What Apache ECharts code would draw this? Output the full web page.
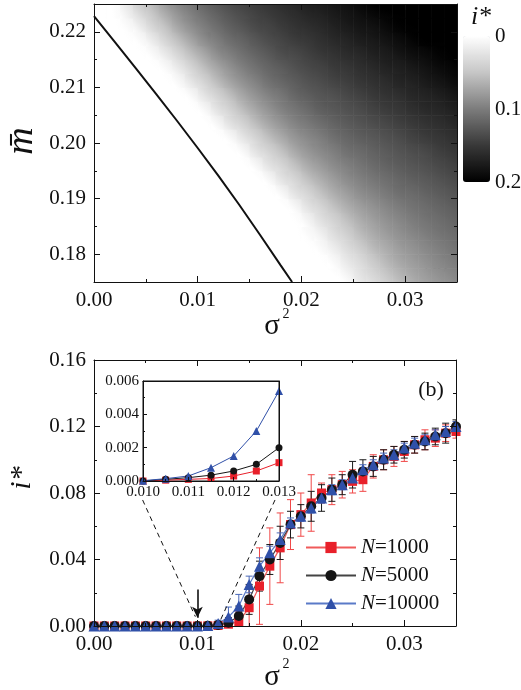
<!DOCTYPE html>
<html>
<head>
<meta charset="utf-8">
<title>i* versus sigma^2</title>
<script src="https://cdn.jsdelivr.net/npm/echarts@6.0.0/dist/echarts.min.js"></script>
<style>
  html, body { margin: 0; padding: 0; background: #fff; }
  #chart { width: 521px; height: 690px; }
</style>
</head>
<body>
<div id="chart"></div>
<script>
// ---------- panel (a): stationary level i* over the (sigma^2, m-bar) plane ----------
// cell centres (cells are 0.00125 wide in sigma^2 and 0.0025 tall in m-bar)
const heatSigma = [0.000625, 0.001875, 0.003125, 0.004375, 0.005625, 0.006875, 0.008125,
  0.009375, 0.010625, 0.011875, 0.013125, 0.014375, 0.015625, 0.016875, 0.018125, 0.019375,
  0.020625, 0.021875, 0.023125, 0.024375, 0.025625, 0.026875, 0.028125, 0.029375, 0.030625,
  0.031875, 0.033125, 0.034375];
const heatM = [0.17625, 0.17875, 0.18125, 0.18375, 0.18625, 0.18875, 0.19125, 0.19375, 0.19625,
  0.19875, 0.20125, 0.20375, 0.20625, 0.20875, 0.21125, 0.21375, 0.21625, 0.21875, 0.22125, 0.22375];
// one row per m-bar value (bottom to top), one column per sigma^2 value
const heatIstar = [
  [0, 0, 0, 0, 0, 0, 0, 0, 0, 0, 0, 0, 0, 0, 0, 0, 0, 0, 0, .009, .024, .035, .048, .060, .070, .078, .085, .091],
  [0, 0, 0, 0, 0, 0, 0, 0, 0, 0, 0, 0, 0, 0, 0, 0, 0, 0, .006, .020, .032, .046, .059, .070, .078, .085, .092, .098],
  [0, 0, 0, 0, 0, 0, 0, 0, 0, 0, 0, 0, 0, 0, 0, 0, 0, .005, .017, .031, .044, .058, .068, .078, .085, .092, .098, .104],
  [0, 0, 0, 0, 0, 0, 0, 0, 0, 0, 0, 0, 0, 0, 0, 0, .004, .014, .030, .042, .057, .068, .078, .086, .093, .099, .105, .110],
  [0, 0, 0, 0, 0, 0, 0, 0, 0, 0, 0, 0, 0, 0, 0, .001, .011, .027, .040, .054, .067, .077, .086, .093, .100, .106, .111, .116],
  [0, 0, 0, 0, 0, 0, 0, 0, 0, 0, 0, 0, 0, 0, 0, .009, .026, .039, .054, .067, .078, .086, .094, .101, .107, .112, .117, .122],
  [0, 0, 0, 0, 0, 0, 0, 0, 0, 0, 0, 0, 0, 0, .009, .026, .039, .054, .068, .079, .089, .096, .103, .110, .114, .119, .124, .129],
  [0, 0, 0, 0, 0, 0, 0, 0, 0, 0, 0, 0, 0, .009, .026, .039, .055, .068, .080, .090, .098, .105, .111, .117, .122, .126, .131, .136],
  [0, 0, 0, 0, 0, 0, 0, 0, 0, 0, 0, 0, .009, .026, .039, .055, .070, .081, .091, .099, .106, .113, .119, .124, .129, .133, .138, .143],
  [0, 0, 0, 0, 0, 0, 0, 0, 0, 0, 0, .008, .026, .040, .055, .071, .083, .092, .100, .109, .114, .120, .125, .130, .135, .139, .145, .150],
  [0, 0, 0, 0, 0, 0, 0, 0, 0, 0, .008, .025, .040, .057, .071, .084, .093, .101, .110, .117, .123, .127, .132, .137, .143, .148, .152, .157],
  [0, 0, 0, 0, 0, 0, 0, 0, 0, .009, .027, .041, .058, .073, .085, .096, .104, .112, .119, .125, .130, .135, .140, .145, .150, .155, .159, .164],
  [0, 0, 0, 0, 0, 0, 0, 0, .008, .026, .041, .058, .073, .086, .097, .106, .114, .122, .127, .132, .137, .143, .148, .152, .158, .163, .166, .171],
  [0, 0, 0, 0, 0, 0, 0, .007, .025, .040, .057, .073, .086, .097, .106, .116, .123, .129, .133, .139, .144, .150, .155, .159, .165, .169, .173, .179],
  [0, 0, 0, 0, 0, 0, .007, .024, .040, .058, .074, .087, .098, .109, .117, .124, .131, .136, .142, .146, .152, .157, .162, .168, .171, .177, .182, .188],
  [0, 0, 0, 0, 0, .006, .021, .039, .057, .073, .087, .099, .109, .118, .125, .132, .138, .143, .149, .153, .159, .164, .170, .173, .179, .184, .190, .195],
  [0, 0, 0, 0, .006, .021, .039, .057, .073, .089, .100, .110, .119, .127, .135, .139, .145, .151, .156, .162, .166, .172, .176, .182, .188, .192, .197, .200],
  [0, 0, 0, .005, .020, .039, .057, .074, .090, .101, .112, .120, .129, .136, .142, .148, .152, .158, .164, .169, .175, .179, .184, .190, .196, .200, .200, .200],
  [0, 0, .004, .018, .038, .055, .074, .089, .101, .112, .122, .130, .138, .143, .149, .155, .160, .165, .171, .177, .182, .186, .192, .198, .200, .200, .200, .200],
  [0, .001, .014, .035, .052, .071, .087, .100, .112, .122, .131, .138, .144, .150, .156, .162, .168, .172, .178, .183, .189, .195, .199, .200, .200, .200, .200, .200]
];
// analytic threshold curve
const thresholdSigma = [0, 0.002, 0.004, 0.006, 0.008, 0.010, 0.012, 0.014, 0.016, 0.018, 0.0191];
const thresholdM = [0.2228, 0.2182, 0.2135, 0.2088, 0.2040, 0.1991, 0.1941, 0.1889, 0.1835, 0.1780, 0.1750];
const aSigmaTicks = [0, 0.01, 0.02, 0.03];
const aSigmaMinor = [0.005, 0.015, 0.025, 0.035];
const aMTicks = [0.18, 0.19, 0.20, 0.21, 0.22];
const aMMinor = [0.175, 0.185, 0.195, 0.205, 0.215, 0.225];
const colorTicks = [0, 0.1, 0.2];

// ---------- panel (b): i* against sigma^2 for three network sizes ----------
const sigma = [0, 0.001, 0.002, 0.003, 0.004, 0.005, 0.006, 0.007, 0.008, 0.009, 0.010, 0.011,
  0.012, 0.013, 0.014, 0.015, 0.016, 0.017, 0.018, 0.019, 0.020, 0.021, 0.022, 0.023, 0.024,
  0.025, 0.026, 0.027, 0.028, 0.029, 0.030, 0.031, 0.032, 0.033, 0.034, 0.035];
const istar1000 = [0, 0, 0, 0, 0, 0, 0, 0, 0, 0, 0, 0.0001, 0.0003, 0.0011, 0.0026, 0.011, 0.024,
  0.036, 0.047, 0.061, 0.067, 0.074, 0.080, 0.082, 0.085, 0.087, 0.088, 0.096, 0.100, 0.102, 0.105,
  0.109, 0.112, 0.113, 0.116, 0.117];
const err1000 = [0, 0, 0, 0, 0, 0, 0, 0, 0, 0, 0, 0, 0.0005, 0.002, 0.006, 0.013, 0.023, 0.023,
  0.021, 0.015, 0.013, 0.017, 0.006, 0.009, 0.008, 0.007, 0.007, 0.007, 0.006, 0.006, 0.006, 0.005,
  0.006, 0.005, 0.005, 0.004];
const istar5000 = [0, 0, 0, 0, 0, 0, 0, 0, 0, 0, 0, 0.0002, 0.0006, 0.002, 0.006, 0.016, 0.030,
  0.040, 0.050, 0.061, 0.066, 0.072, 0.077, 0.082, 0.085, 0.091, 0.093, 0.096, 0.100, 0.103, 0.106,
  0.109, 0.111, 0.114, 0.116, 0.120];
const err5000 = [0, 0, 0, 0, 0, 0, 0, 0, 0, 0, 0, 0, 0.001, 0.003, 0.006, 0.009, 0.009, 0.009,
  0.010, 0.008, 0.007, 0.009, 0.008, 0.007, 0.006, 0.008, 0.007, 0.006, 0.006, 0.005, 0.005, 0.005,
  0.005, 0.005, 0.006, 0.004];
const istar10000 = [0, 0, 0, 0, 0, 0, 0, 0, 0, 0, 0, 0.0003, 0.0015, 0.0054, 0.012, 0.025, 0.036,
  0.044, 0.052, 0.062, 0.066, 0.071, 0.077, 0.082, 0.085, 0.089, 0.094, 0.097, 0.101, 0.103, 0.107,
  0.110, 0.112, 0.115, 0.117, 0.120];
const err10000 = [0, 0, 0, 0, 0, 0, 0, 0, 0, 0, 0, 0.001, 0.002, 0.006, 0.007, 0.005, 0.005, 0.004,
  0.004, 0.003, 0.003, 0.003, 0.003, 0.003, 0.003, 0.003, 0.003, 0.003, 0.003, 0.003, 0.003, 0.003,
  0.003, 0.003, 0.003, 0.003];
const bSigmaTicks = [0, 0.01, 0.02, 0.03];
const bSigmaMinor = [0.005, 0.015, 0.025, 0.035];
const bITicks = [0, 0.04, 0.08, 0.12, 0.16];
const bIMinor = [0.02, 0.06, 0.10, 0.14];

// inset: close-up of the onset region
const insetSigma = [0.010, 0.0105, 0.011, 0.0115, 0.012, 0.0125, 0.013];
const inset1000 = [0, 0.00005, 0.0001, 0.00015, 0.0003, 0.0006, 0.0011];
const inset5000 = [0, 0.0001, 0.0002, 0.00035, 0.0006, 0.001, 0.002];
const inset10000 = [0.00002, 0.00014, 0.0003, 0.0008, 0.0015, 0.003, 0.0054];
const insetSigmaTicks = [0.010, 0.011, 0.012, 0.013];
const insetSigmaMinor = [0.0105, 0.0115, 0.0125];
const insetITicks = [0, 0.002, 0.004, 0.006];
const insetIMinor = [0.001, 0.003, 0.005];

// guide lines from the zoomed window to the inset, and the threshold arrow
const guideLeft = [[0.0047, 0.0758], [0.0098, 0.0056]];
const guideRight = [[0.0175, 0.0758], [0.0121, 0.0018]];
const arrowAt = [[0.010, 0.022], [0.010, 0.005]];

// ---------- drawing ----------
const FONT = '"Liberation Serif", "Times New Roman", serif';
const INK = '#111';
const CELL_W = 0.00125, CELL_H = 0.0025;
const NR = heatM.length, NC = heatSigma.length;
// grey level of the colour scale at i* = 0, 0.05, 0.10, 0.15, 0.20
const GREY_STOPS = [255, 198, 124, 56, 0];
const greyCss = function (g) { return 'rgb(' + g + ',' + g + ',' + g + ')'; };

function greyAt(v) {
  const t = Math.max(0, Math.min(0.2, v)) / 0.05;
  const i = Math.min(3, Math.floor(t));
  const f = t - i;
  return greyCss(Math.round(GREY_STOPS[i] + (GREY_STOPS[i + 1] - GREY_STOPS[i]) * f));
}

function zip(xs, ys) { return xs.map(function (x, i) { return [x, ys[i]]; }); }
function zip3(xs, ys, es) { return xs.map(function (x, i) { return [x, ys[i], es[i]]; }); }

// four axes per dimension: labelled side (major, minor ticks) and mirrored side (major, minor)
function frameAxes(dim, gridIndex, min, max, major, minor, o) {
  const sides = dim === 'x' ? ['bottom', 'top'] : ['left', 'right'];
  const axes = [];
  sides.forEach(function (pos, s) {
    const mirror = s === 1;
    const ticks = !mirror || o.mirrorTicks;
    axes.push({
      type: 'value', gridIndex: gridIndex, position: pos, min: min, max: max, z: 10,
      axisLine: { show: true, onZero: false, lineStyle: { color: INK, width: 1 } },
      axisTick: { show: ticks, inside: true, length: o.tickLen, customValues: major, lineStyle: { color: INK, width: 1 } },
      axisLabel: mirror ? { show: false } : {
        show: true, customValues: major, formatter: o.fmt, margin: o.margin,
        color: INK, fontFamily: FONT, fontSize: o.fontSize
      },
      splitLine: { show: false }
    });
    axes.push({
      type: 'value', gridIndex: gridIndex, position: pos, min: min, max: max, z: 10,
      axisLine: { show: false, onZero: false },
      axisTick: { show: ticks, inside: true, length: o.minorLen, customValues: minor, lineStyle: { color: INK, width: 1 } },
      axisLabel: { show: false },
      splitLine: { show: false }
    });
  });
  return axes;
}

const fix2 = function (v) { return v.toFixed(2); };
const fix3 = function (v) { return v.toFixed(3); };
const big = { tickLen: 6, minorLen: 3, fontSize: 21, mirrorTicks: true };

const heatData = [];
heatM.forEach(function (m, j) {
  heatSigma.forEach(function (s, k) { heatData.push([s, m, heatIstar[j][k]]); });
});

function cellValue(j, k) {
  return heatIstar[Math.max(0, Math.min(NR - 1, j))][Math.max(0, Math.min(NC - 1, k))];
}

// each cell is shaded along the local slope of the field so neighbouring cells blend
function cellRender(params, api) {
  const idx = params.dataIndex;
  const j = Math.floor(idx / NC), k = idx % NC;
  const v = heatIstar[j][k];
  const dk = (cellValue(j, k + 1) - cellValue(j, k - 1)) / ((k > 0 && k < NC - 1) ? 2 : 1);
  const dj = (cellValue(j + 1, k) - cellValue(j - 1, k)) / ((j > 0 && j < NR - 1) ? 2 : 1);
  const x = api.value(0), y = api.value(1);
  const a = api.coord([x - CELL_W / 2, y + CELL_H / 2]);
  const b = api.coord([x + CELL_W / 2, y - CELL_H / 2]);
  const W = b[0] - a[0], H = b[1] - a[1];
  const cx = (a[0] + b[0]) / 2, cy = (a[1] + b[1]) / 2;
  const gx = dk / W, gy = -dj / H;
  const gm = Math.sqrt(gx * gx + gy * gy);
  let fill;
  if (gm < 1e-12) {
    fill = greyAt(v);
  } else {
    const ux = gx / gm, uy = gy / gm;
    const L = (Math.abs(ux) * W + Math.abs(uy) * H) / 2;
    const stops = [];
    for (let s = 0; s <= 6; s++) {
      const t = s / 6;
      stops.push({ offset: t, color: greyAt(v + gm * L * (2 * t - 1)) });
    }
    fill = new echarts.graphic.LinearGradient(cx - ux * L, cy - uy * L, cx + ux * L, cy + uy * L, stops, true);
  }
  return {
    type: 'rect',
    shape: { x: a[0], y: a[1], width: W + 0.6, height: H + 0.6 },
    style: { fill: fill }
  };
}

function errorBars(color) {
  return function (params, api) {
    const e = api.value(2);
    if (!e) return null;
    const x = api.value(0), y = api.value(1);
    const hi = api.coord([x, y + e]);
    const lo = api.coord([x, y - e]);
    const hw = 3.5;
    const st = { stroke: color, lineWidth: 1 };
    return {
      type: 'group',
      children: [
        { type: 'line', shape: { x1: hi[0], y1: hi[1], x2: lo[0], y2: lo[1] }, style: st },
        { type: 'line', shape: { x1: hi[0] - hw, y1: hi[1], x2: hi[0] + hw, y2: hi[1] }, style: st },
        { type: 'line', shape: { x1: lo[0] - hw, y1: lo[1], x2: lo[0] + hw, y2: lo[1] }, style: st }
      ]
    };
  };
}

const RED = { mark: '#e8202a', line: '#f05a5a', bar: '#f04848' };
const BLK = { mark: '#151515', line: '#444444', bar: '#1a1a1a' };
const BLU = { mark: '#3050a8', line: '#5a7ac8', bar: '#4a68b8' };

function mainLine(name, ys, c, symbol, size) {
  return {
    type: 'line', name: name, xAxisIndex: 4, yAxisIndex: 4, data: zip(sigma, ys),
    symbol: symbol, symbolSize: size, showAllSymbol: true,
    itemStyle: { color: c.mark }, lineStyle: { color: c.line, width: 1.2 }, z: 3
  };
}
function mainErr(name, ys, es, c) {
  return {
    type: 'custom', name: name, xAxisIndex: 4, yAxisIndex: 4, clip: true, silent: true,
    data: zip3(sigma, ys, es), encode: { x: 0, y: 1 }, renderItem: errorBars(c.bar), z: 3
  };
}
function insetLine(name, ys, c, symbol, size) {
  return {
    type: 'line', name: name, xAxisIndex: 9, yAxisIndex: 9, data: zip(insetSigma, ys),
    symbol: symbol, symbolSize: size, itemStyle: { color: c.mark },
    lineStyle: { color: c.mark, width: 1 }, z: 6
  };
}

const chart = echarts.init(document.getElementById('chart'), null, { renderer: 'canvas' });

chart.setOption({
  animation: false,
  backgroundColor: '#ffffff',
  grid: [
    { left: 94, top: 4, width: 363, height: 278, containLabel: false, outerBoundsMode: 'none' },
    { left: 94, top: 360, width: 362, height: 266, containLabel: false, outerBoundsMode: 'none' },
    { left: 463, top: 36, width: 27, height: 146, containLabel: false, outerBoundsMode: 'none' },
    { left: 143, top: 381, width: 136, height: 100, containLabel: false, outerBoundsMode: 'none',
      show: true, backgroundColor: '#ffffff', borderColor: INK, borderWidth: 1, z: 5 }
  ],
  xAxis: [].concat(
    frameAxes('x', 0, 0, 0.035, aSigmaTicks, aSigmaMinor, Object.assign({ fmt: fix2, margin: 8 }, big)),
    frameAxes('x', 1, 0, 0.035, bSigmaTicks, bSigmaMinor, Object.assign({ fmt: fix2, margin: 8 }, big)),
    [{ type: 'value', gridIndex: 2, show: false, min: 0, max: 1 }],
    frameAxes('x', 3, 0.010, 0.013, insetSigmaTicks, insetSigmaMinor,
      { fmt: fix3, margin: 4, tickLen: 4, minorLen: 2, fontSize: 15, mirrorTicks: false })
  ),
  yAxis: [].concat(
    frameAxes('y', 0, 0.175, 0.225, aMTicks, aMMinor, Object.assign({ fmt: fix2, margin: 8 }, big)),
    frameAxes('y', 1, 0, 0.16, bITicks, bIMinor, Object.assign({ fmt: fix2, margin: 8 }, big)),
    [{
      type: 'value', gridIndex: 2, position: 'right', min: 0, max: 0.2, inverse: true,
      axisLine: { show: false }, axisTick: { show: false }, splitLine: { show: false },
      axisLabel: {
        customValues: colorTicks, margin: 5, color: INK, fontFamily: FONT, fontSize: 21,
        formatter: function (v) { return v === 0 ? '0' : v.toFixed(1); }
      }
    }],
    frameAxes('y', 3, 0, 0.006, insetITicks, insetIMinor,
      { fmt: fix3, margin: 4, tickLen: 4, minorLen: 2, fontSize: 15, mirrorTicks: false })
  ),
  visualMap: {
    type: 'continuous', seriesIndex: 0, dimension: 2, min: 0, max: 0.2,
    inRange: { color: GREY_STOPS.map(greyCss) },
    orient: 'vertical', inverse: true, left: 463, top: 36, itemWidth: 27, itemHeight: 146,
    padding: 0, calculable: false, hoverLink: false, showLabel: false, text: null
  },
  legend: {
    data: ['N=1000', 'N=5000', 'N=10000'], orient: 'vertical', left: 305, top: 537,
    itemWidth: 50, itemHeight: 14, itemGap: 7, padding: 0, selectedMode: false,
    formatter: function (n) { return '{it|N}' + n.slice(1); },
    textStyle: {
      color: INK, fontFamily: FONT, fontSize: 21,
      rich: { it: { fontStyle: 'italic', fontFamily: FONT, fontSize: 21, color: INK } }
    }
  },
  series: [
    { type: 'custom', name: 'istar map', xAxisIndex: 0, yAxisIndex: 0, data: heatData, clip: true,
      silent: true, encode: { x: 0, y: 1 }, renderItem: cellRender, z: 2 },
    { type: 'line', name: 'threshold', xAxisIndex: 0, yAxisIndex: 0, data: zip(thresholdSigma, thresholdM),
      symbol: 'none', lineStyle: { color: INK, width: 2 }, z: 4, silent: true },
    mainErr('err1000', istar1000, err1000, RED),
    mainLine('N=1000', istar1000, RED, 'rect', 9),
    mainErr('err5000', istar5000, err5000, BLK),
    mainLine('N=5000', istar5000, BLK, 'circle', 10),
    mainErr('err10000', istar10000, err10000, BLU),
    mainLine('N=10000', istar10000, BLU, 'triangle', 11),
    insetLine('inset1000', inset1000, RED, 'rect', 7),
    insetLine('inset5000', inset5000, BLK, 'circle', 7),
    insetLine('inset10000', inset10000, BLU, 'triangle', 8),
    {
      type: 'line', name: 'guides', xAxisIndex: 4, yAxisIndex: 4, data: [], silent: true, z: 4,
      markLine: {
        silent: true, animation: false, symbol: ['none', 'none'], label: { show: false },
        emphasis: { disabled: true },
        data: [
          [{ coord: guideLeft[0], lineStyle: { color: INK, width: 1, type: [5, 4] } }, { coord: guideLeft[1] }],
          [{ coord: guideRight[0], lineStyle: { color: INK, width: 1, type: [5, 4] } }, { coord: guideRight[1] }],
          [{ coord: arrowAt[0], symbol: 'none', lineStyle: { color: INK, width: 1.6, type: 'solid' } },
           { coord: arrowAt[1], symbol: 'arrow', symbolSize: [8, 11] }]
        ]
      }
    }
  ],
  graphic: [
    { type: 'text', x: 22, y: 141, rotation: Math.PI / 2,
      style: { text: 'm\u0304', fontFamily: FONT, fontStyle: 'italic', fontSize: 38, fill: INK, align: 'center', verticalAlign: 'middle' } },
    { type: 'text', x: 272, y: 326, style: { text: 'σ', fontFamily: FONT, fontSize: 29, fill: INK, align: 'center', verticalAlign: 'middle' } },
    { type: 'text', x: 286, y: 314, style: { text: '2', fontFamily: FONT, fontSize: 14, fill: INK, align: 'center', verticalAlign: 'middle' } },
    { type: 'text', x: 481, y: 17, style: { text: 'i*', fontFamily: FONT, fontStyle: 'italic', fontSize: 26, fill: INK, align: 'center', verticalAlign: 'middle' } },
    { type: 'text', x: 436, y: 263, style: { text: '(a)', fontFamily: FONT, fontSize: 22, fill: INK, align: 'center', verticalAlign: 'middle' } },
    { type: 'text', x: 22, y: 478, rotation: Math.PI / 2,
      style: { text: 'i*', fontFamily: FONT, fontStyle: 'italic', fontSize: 30, fill: INK, align: 'center', verticalAlign: 'middle' } },
    { type: 'text', x: 272, y: 677, style: { text: 'σ', fontFamily: FONT, fontSize: 29, fill: INK, align: 'center', verticalAlign: 'middle' } },
    { type: 'text', x: 286, y: 664, style: { text: '2', fontFamily: FONT, fontSize: 14, fill: INK, align: 'center', verticalAlign: 'middle' } },
    { type: 'text', x: 431, y: 390, style: { text: '(b)', fontFamily: FONT, fontSize: 22, fill: INK, align: 'center', verticalAlign: 'middle' } }
  ]
});
</script>
</body>
</html>
